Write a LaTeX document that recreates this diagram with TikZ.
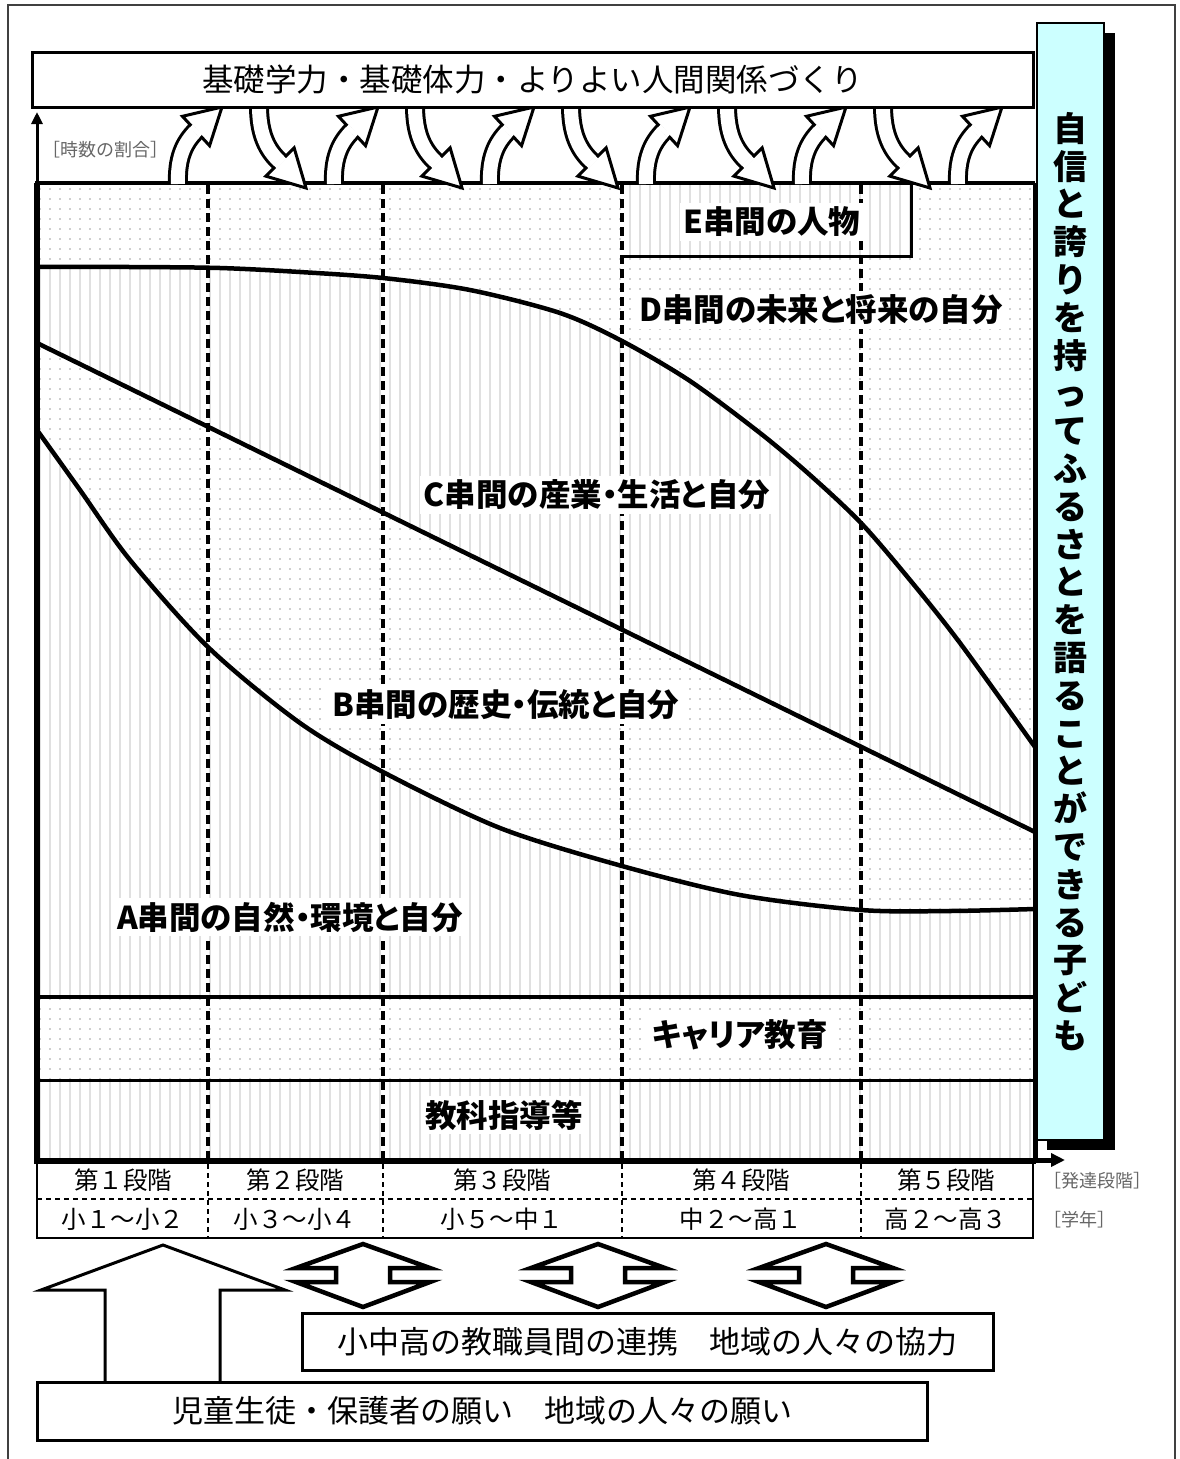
\documentclass[tikz,border=0pt]{standalone}
\usepackage{fontspec}
\setmainfont{Noto Sans CJK JP}
\newfontfamily\jp{Noto Sans CJK JP}
\newfontfamily\jpp[RawFeature=+palt]{Noto Sans CJK JP}
\usetikzlibrary{patterns.meta,arrows.meta,calc}
\definecolor{goalcyan}{RGB}{204,255,255}
\tikzset{
 dotsfill/.style={preaction={fill=white}, pattern={Dots[distance=10pt,radius=0.85pt]}, pattern color=black!38},
 linesfill/.style={preaction={fill=white}, pattern={Lines[angle=90,distance=10pt,line width=2.5pt]}, pattern color=black!12},
 stageline/.style={line width=4.5pt, dash pattern=on 9pt off 5pt},
 tabdash/.style={line width=1.5pt, dash pattern=on 5pt off 4pt},
 curveline/.style={line width=4.5pt, line join=round, line cap=round},
 lab/.style={font=\jpp\bfseries\fontsize{31.5}{31.5}\selectfont, fill=white, inner sep=4pt},
 mincho/.style={font=\jp\fontsize{#1}{#1}\selectfont},
 box/.style={draw, line width=3pt, fill=white, inner sep=0pt},
 shaft/.style={line width=3pt, double=white, double distance=14pt},
 ahead/.style={fill=white, draw, line width=3pt, line join=miter},
 graytext/.style={text=black!60, font=\jp\fontsize{18}{18}\selectfont, inner sep=0pt},
 udarrow/.style={draw, fill=white, line width=4.5pt, line join=miter},
}
\begin{document}
\begin{tikzpicture}[x=1pt,y=-1pt]
\useasboundingbox (0,0) rectangle (1179,1459);
% outer frame
\draw[line width=2.5pt, black!75] (8,1459) -- (8,5) -- (1175,5) -- (1175,1459);

% chart background patterns
\path[dotsfill] (37,183) rectangle (1035,1080);
\path[linesfill] plot[smooth] coordinates {(37,267) (130,267) (220,268) (300,272) (383,278) (470,290) (560,313) (622,341) (690,381) (760,433) (810,475) (861,523) (910,580) (960,643) (1035,747)} -- (1035,832) -- (37,343) -- cycle;
\path[linesfill] plot[smooth] coordinates {(37,430) (80,490) (130,560) (209,648) (300,723) (383,772) (500,828) (622,866) (740,895) (861,910) (950,911) (1035,909)} -- (1035,997) -- (37,997) -- cycle;
\path[linesfill] (37,1080) rectangle (1035,1160);
% E box fill
\node[linesfill, minimum width=289pt, minimum height=73pt, inner sep=0pt, anchor=north west] (ebox) at (622,183) {};

% stage dashed lines
\foreach \x in {208,383,622,861} \draw[stageline] (\x,185) -- (\x,1160);

% curves
\draw[curveline] plot[smooth] coordinates {(37,267) (130,267) (220,268) (300,272) (383,278) (470,290) (560,313) (622,341) (690,381) (760,433) (810,475) (861,523) (910,580) (960,643) (1035,747)};
\draw[curveline] (37,343) -- (1035,832);
\draw[curveline] plot[smooth] coordinates {(37,430) (80,490) (130,560) (209,648) (300,723) (383,772) (500,828) (622,866) (740,895) (861,910) (950,911) (1035,909)};
\draw[line width=4pt] (37,997) -- (1035,997);
\draw[line width=3pt] (37,1080) -- (1035,1080);
% E box border
\draw[line width=3.5pt] (ebox.north west) -- (ebox.north east) -- (ebox.south east) -- (ebox.south west);

% labels
\node[lab] (le) at (772,222) {E串間の人物};
\node[lab] (ld) at (821,310) {D串間の未来と将来の自分};
\node[lab] (lc) at (597,495) {C串間の産業・生活と自分};
\node[lab] (lb) at (506,705) {B串間の歴史・伝統と自分};
\node[lab] (la) at (290,917) {A串間の自然・環境と自分};
\node[lab] (lk) at (740,1035) {キャリア教育};
\node[lab] (lt) at (504,1115) {教科指導等};

% chart frame and axes
\draw[line width=4pt] (35,183) -- (1035,183);
\draw[line width=5pt] (1035,183) -- (1035,1161);
\draw[line width=6pt] (37,183) -- (37,1163);
\draw[line width=6pt] (34,1161) -- (1036,1161);
\draw[line width=5pt, -{Triangle[length=14pt,width=13pt]}] (1034,1160) -- (1065,1160);
\draw[line width=3pt, -{Triangle[length=12pt,width=11pt]}] (37,186) -- (37,112);
\node[graytext, anchor=west] (ratio) at (42,150) {［時数の割合］};

% curved block arrows
\foreach \k in {0,...,5} {
 \begin{scope}[xshift=\k*156pt]
  \draw[shaft] (178,184) .. controls (177,158) and (184,143) .. (196,131);
  \coordinate (ub) at (196,131);
  \coordinate (ut) at (222,107);
  \filldraw[ahead] ($(ub)!20pt!90:(ut)$) -- (ut) -- ($(ub)!20pt!-90:(ut)$) -- cycle;
  \draw[white, line width=4pt] ($(ub)!6.8pt!90:(ut)$) -- ($(ub)!6.8pt!-90:(ut)$);
 \end{scope}
}
\foreach \k in {0,...,4} {
 \begin{scope}[xshift=\k*156pt]
  \draw[shaft] (259,106) .. controls (259,134) and (267,150) .. (280,162);
  \coordinate (db) at (280,162);
  \coordinate (dt) at (306,188);
  \filldraw[ahead] ($(db)!20pt!90:(dt)$) -- (dt) -- ($(db)!20pt!-90:(dt)$) -- cycle;
  \draw[white, line width=4pt] ($(db)!6.8pt!90:(dt)$) -- ($(db)!6.8pt!-90:(dt)$);
 \end{scope}
}

% banner
\node[box, minimum width=1001pt, minimum height=55pt, mincho=31.5] (banner) at (532.5,79.5) {基礎学力・基礎体力・よりよい人間関係づくり};

% goal box
\fill[black] (1047,33) rectangle (1115,1150);
\node[draw, line width=2pt, fill=goalcyan, minimum width=67pt, minimum height=1117pt, inner sep=0pt, align=center, font=\jp\bfseries\fontsize{34}{37.8}\selectfont] (goal) at (1070.5,581.5) {自\\信\\と\\誇\\り\\を\\持\\っ\\て\\ふ\\る\\さ\\と\\を\\語\\る\\こ\\と\\が\\で\\き\\る\\子\\ど\\も};

% table
\draw[line width=2pt] (37,1161) -- (37,1238) -- (1033,1238) -- (1033,1161);
\draw[tabdash] (37,1199) -- (1033,1199);
\foreach \x in {208,383,622,861} \draw[tabdash] (\x,1164) -- (\x,1238);
\node[mincho=24.5] (s1) at (123,1180) {第１段階};
\node[mincho=24.5] (s2) at (295,1180) {第２段階};
\node[mincho=24.5] (s3) at (502,1180) {第３段階};
\node[mincho=24.5] (s4) at (741,1180) {第４段階};
\node[mincho=24.5] (s5) at (946,1180) {第５段階};
\node[mincho=24.5] (g1) at (123,1219) {小１～小２};
\node[mincho=24.5] (g2) at (295,1219) {小３～小４};
\node[mincho=24.5] (g3) at (502,1219) {小５～中１};
\node[mincho=24.5] (g4) at (741,1219) {中２～高１};
\node[mincho=24.5] (g5) at (946,1219) {高２～高３};
\node[graytext, anchor=west] (hstage) at (1043,1181) {［発達段階］};
\node[graytext, anchor=west] (hgrade) at (1043,1220) {［学年］};

% bottom arrows
\draw[line width=3pt, fill=white, line join=miter] (105,1383) -- (105,1290) -- (41,1290) -- (163,1245) -- (285,1290) -- (220,1290) -- (220,1383);
\foreach \c in {363,598,826} {
 \draw[udarrow] (\c,1244) -- (\c+67,1268) -- (\c+27,1268) -- (\c+27,1282) -- (\c+67,1282) -- (\c,1307) -- (\c-67,1282) -- (\c-27,1282) -- (\c-27,1268) -- (\c-67,1268) -- cycle;
}
\node[box, minimum width=691pt, minimum height=57pt, mincho=31] (coop) at (647.5,1341.5) {小中高の教職員間の連携　地域の人々の協力};
\node[box, minimum width=890pt, minimum height=58pt, mincho=31] (wish) at (482,1411) {児童生徒・保護者の願い　地域の人々の願い};
\end{tikzpicture}
\end{document}
